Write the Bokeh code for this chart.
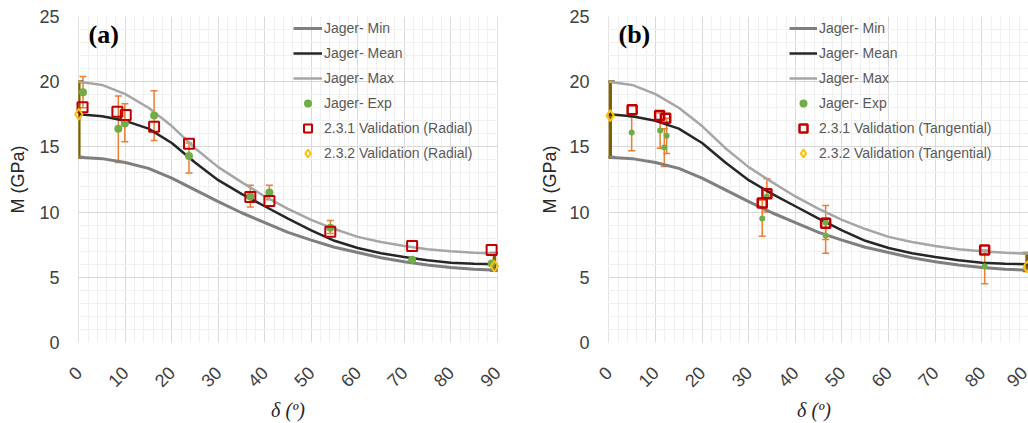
import math
from bokeh.plotting import figure
from bokeh.models import (ColumnDataSource, Whisker, TeeHead, Legend, LegendItem, Label,
                          SingleIntervalTicker, Range1d, BoxAnnotation)
from bokeh.layouts import row
from bokeh.embed import file_html
from bokeh.resources import INLINE

# ---------------- data ----------------
delta = [0, 5, 10, 15, 20, 25, 30, 35, 40, 45, 50, 55, 60, 65, 70, 75, 80, 85, 90]
jager_min = [14.2, 14.1, 13.8, 13.35, 12.6, 11.7, 10.8, 9.95, 9.2, 8.45, 7.85, 7.3, 6.9, 6.5, 6.2, 5.95, 5.75, 5.62, 5.55]
jager_mean = [17.5, 17.35, 17.0, 16.4, 15.3, 13.8, 12.45, 11.4, 10.45, 9.5, 8.6, 7.8, 7.25, 6.85, 6.55, 6.3, 6.12, 6.03, 6.0]
jager_max = [20.0, 19.75, 19.05, 18.0, 16.6, 14.9, 13.45, 12.3, 11.2, 10.25, 9.4, 8.7, 8.1, 7.7, 7.4, 7.15, 7.0, 6.88, 6.82]

# panel (a) radial
a_exp_x = [0.9, 8.5, 9.9, 16.2, 23.7, 36.9, 41.0, 54.1, 71.7, 88.8]
a_exp_y = [19.2, 16.4, 16.8, 17.4, 14.3, 11.2, 11.5, 8.8, 6.35, 6.05]
a_err_x = [0.9, 8.5, 9.9, 16.2, 23.7, 36.9, 41.0, 54.1]
a_err_lo = [18.0, 13.8, 15.4, 15.5, 13.0, 10.4, 10.95, 8.35]
a_err_hi = [20.4, 18.9, 18.3, 19.3, 15.3, 12.05, 12.05, 9.35]
a_v1_x = [0.8, 8.3, 10.1, 16.2, 23.7, 36.9, 41.0, 54.1, 71.7, 88.8]
a_v1_y = [18.05, 17.7, 17.45, 16.55, 15.25, 11.15, 10.85, 8.5, 7.4, 7.1]
a_v2_x = [0.0, 89.4]
a_v2_y = [17.5, 5.85]
a_v2_lo = [14.2, 5.55]
a_v2_hi = [20.0, 6.85]

# panel (b) tangential
b_exp_x = [4.9, 11.0, 11.9, 12.4, 32.9, 33.9, 46.5, 46.5, 80.6]
b_exp_y = [16.1, 16.25, 14.95, 15.85, 9.5, 11.2, 9.2, 8.2, 5.85]
b_err_x = [4.9, 11.0, 11.9, 12.4, 32.9, 33.9, 46.5, 46.5, 80.6]
b_err_lo = [14.7, 14.9, 13.5, 14.5, 8.15, 10.0, 7.9, 6.85, 4.5]
b_err_hi = [17.3, 17.6, 16.4, 17.2, 10.9, 12.55, 10.5, 9.55, 7.1]
b_v1_x = [5.0, 10.9, 12.2, 32.9, 33.9, 46.5, 80.6]
b_v1_y = [17.85, 17.4, 17.2, 10.7, 11.4, 9.15, 7.1]
b_v2_x = [0.3, 89.7]
b_v2_y = [17.4, 5.8]
b_v2_lo = [14.2, 5.5]
b_v2_hi = [20.0, 6.85]

x_ticks_interval = 10
y_ticks_interval = 5

SANS = "Liberation Sans"
SERIF = "Liberation Serif"


def make_panel(letter, kind, exp_x, exp_y, err_x, err_lo, err_hi, v1_x, v1_y,
               v2_x, v2_y, v2_lo, v2_hi, width, border_left, border_right,
               x_end, legend_x, glyph_w, exp_size, sq_size, sq_lw, ylab_standoff):
    p = figure(width=width, height=423, x_range=Range1d(-2, x_end), y_range=Range1d(0, 25),
               output_backend="svg", toolbar_location=None,
               min_border_left=border_left, min_border_right=border_right,
               min_border_top=16, min_border_bottom=76,
               outline_line_color=None, background_fill_color="white",
               border_fill_color="white")
    p.title.visible = False

    xt = SingleIntervalTicker(interval=x_ticks_interval, num_minor_ticks=5)
    yt = SingleIntervalTicker(interval=y_ticks_interval, num_minor_ticks=5)
    p.xaxis.ticker = xt
    p.yaxis.ticker = yt
    p.xgrid.ticker = xt
    p.ygrid.ticker = yt
    p.grid.grid_line_color = "#D9D9D9"
    p.grid.grid_line_width = 1
    p.grid.minor_grid_line_color = "#F0F0F0"
    p.grid.minor_grid_line_width = 1

    for ax in (p.xaxis, p.yaxis):
        ax.axis_line_color = None
        ax.major_tick_line_color = None
        ax.minor_tick_line_color = None
        ax.major_tick_out = 0
        ax.minor_tick_out = 0
        ax.major_label_text_font = SANS
        ax.major_label_text_font_size = "18px"
        ax.major_label_text_color = "#404040"
    p.xaxis.major_label_orientation = math.pi / 4
    p.xaxis.major_label_standoff = 27
    p.yaxis.major_label_standoff = 10

    p.yaxis.axis_label = "M (GPa)"
    p.yaxis.axis_label_text_font = SANS
    p.yaxis.axis_label_text_font_style = "normal"
    p.yaxis.axis_label_text_font_size = "18px"
    p.yaxis.axis_label_text_color = "#262626"
    p.yaxis.axis_label_standoff = ylab_standoff

    p.xaxis.axis_label = "δ (º)"
    p.xaxis.axis_label_text_font = SERIF
    p.xaxis.axis_label_text_font_style = "italic"
    p.xaxis.axis_label_text_font_size = "20px"
    p.xaxis.axis_label_text_color = "#262626"
    p.xaxis.axis_label_standoff = 3

    # curves
    r_min = p.line(delta, jager_min, line_color="#7F7F7F", line_width=3)
    r_mean = p.line(delta, jager_mean, line_color="#262626", line_width=2.5)
    r_max = p.line(delta, jager_max, line_color="#A6A6A6", line_width=2.5)

    # error bars (experimental)
    esrc = ColumnDataSource(dict(x=err_x, lo=err_lo, hi=err_hi))
    p.add_layout(Whisker(source=esrc, base="x", lower="lo", upper="hi", dimension="height",
                         line_color="#ED7D31", line_width=1.5, level="underlay",
                         upper_head=TeeHead(size=7, line_color="#ED7D31", line_width=1.5),
                         lower_head=TeeHead(size=7, line_color="#ED7D31", line_width=1.5)))
    # error bars (2.3.2 validation)
    vsrc = ColumnDataSource(dict(x=v2_x, lo=v2_lo, hi=v2_hi))
    p.add_layout(Whisker(source=vsrc, base="x", lower="lo", upper="hi", dimension="height",
                         line_color="#7F6000", line_width=3.5, level="underlay",
                         upper_head=TeeHead(size=9, line_color="#7F6000", line_width=3),
                         lower_head=TeeHead(size=9, line_color="#7F6000", line_width=3)))

    # white strips outside 0..90 (cover grid overhang)
    p.add_layout(BoxAnnotation(right=-0.12, fill_color="white", fill_alpha=1,
                               line_alpha=0, level="underlay"))
    p.add_layout(BoxAnnotation(left=90.12, fill_color="white", fill_alpha=1,
                               line_alpha=0, level="underlay"))

    r_exp = p.scatter(exp_x, exp_y, marker="circle", size=exp_size,
                      fill_color="#70AD47", line_color=None)
    r_v1 = p.scatter(v1_x, v1_y, marker="square", size=sq_size, fill_alpha=0,
                     line_color="#C00000", line_width=sq_lw)
    r_v2 = p.scatter(v2_x, v2_y, marker="diamond", size=11,
                     fill_alpha=0, line_color="#FFC000", line_width=2)

    items = [
        LegendItem(label="Jager- Min", renderers=[r_min]),
        LegendItem(label="Jager- Mean", renderers=[r_mean]),
        LegendItem(label="Jager- Max", renderers=[r_max]),
        LegendItem(label="Jager- Exp", renderers=[r_exp]),
        LegendItem(label="2.3.1 Validation (%s)" % kind, renderers=[r_v1]),
        LegendItem(label="2.3.2 Validation (%s)" % kind, renderers=[r_v2]),
    ]
    legend = Legend(items=items, location=(legend_x, 179), orientation="vertical",
                    background_fill_alpha=0, border_line_alpha=0, padding=0, margin=0,
                    spacing=5, glyph_width=glyph_w, glyph_height=20, label_height=20,
                    label_standoff=2, label_text_font=SANS, label_text_font_size="14px",
                    label_text_color="#595959")
    p.add_layout(legend)

    # panel letter
    p.add_layout(Label(x=19, y=308, x_units="screen", y_units="screen", text="(%s)" % letter,
                       text_font=SERIF, text_font_style="bold", text_font_size="26px",
                       text_color="black", text_align="left", text_baseline="middle"))
    return p


pa = make_panel("a", "Radial", a_exp_x, a_exp_y, a_err_x, a_err_lo, a_err_hi, a_v1_x, a_v1_y,
                a_v2_x, a_v2_y, a_v2_lo, a_v2_hi, width=520, border_left=69, border_right=14,
                x_end=92, legend_x=224, glyph_w=29, exp_size=8, sq_size=10, sq_lw=2,
                ylab_standoff=8)
pb = make_panel("b", "Tangential", b_exp_x, b_exp_y, b_err_x, b_err_lo, b_err_hi, b_v1_x, b_v1_y,
                b_v2_x, b_v2_y, b_v2_lo, b_v2_hi, width=508, border_left=79, border_right=0,
                x_end=90, legend_x=190, glyph_w=28, exp_size=6, sq_size=9, sq_lw=2.5,
                ylab_standoff=6)

layout = row(pa, pb, spacing=0)
open("out.html", "w").write(file_html(layout, INLINE))
